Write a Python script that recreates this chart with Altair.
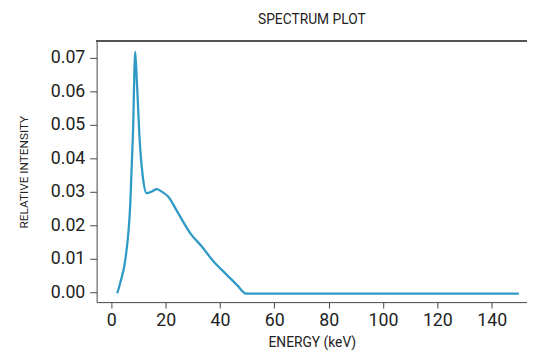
import altair as alt
import pandas as pd

energy = [2.2, 3.4, 5.2, 7.0, 8.0, 8.8, 9.4, 10.6, 11.6, 13.0, 14.9, 16.7, 18.5,
          20.9, 24.5, 29.3, 33.0, 37.8, 42.6, 46.3, 49.6, 60, 80, 100, 120, 140, 150]
intensity = [-0.0002, 0.0032, 0.0100, 0.0267, 0.0480, 0.0717, 0.0630, 0.0433, 0.0345,
             0.0296, 0.0301, 0.0308, 0.0301, 0.0286, 0.0238, 0.0174, 0.0140, 0.0091,
             0.0052, 0.0022, -0.0003, -0.0003, -0.0003, -0.0003, -0.0003, -0.0003, -0.0003]
x_ticks = [0, 20, 40, 60, 80, 100, 120, 140]
y_ticks = [0.00, 0.01, 0.02, 0.03, 0.04, 0.05, 0.06, 0.07]

df = pd.DataFrame({"energy": energy, "intensity": intensity})

W, H = 437, 265
FONT = "Roboto"

line = alt.Chart(df).mark_line(color="#2f9ac6", strokeWidth=2.3, interpolate="monotone").encode(
    x=alt.X("energy:Q", scale=alt.Scale(domain=[-5.4, 153.0], nice=False, zero=False),
            axis=alt.Axis(values=x_ticks, title="ENERGY (keV)", grid=False,
                          labelFontSize=18, labelFont=FONT, labelColor="#222",
                          titleFont=FONT, titleFontSize=14, titleFontWeight="normal",
                          titleColor="#222", titlePadding=6,
                          tickSize=6, tickColor="#444", domainColor="#444",
                          labelPadding=4)),
    y=alt.Y("intensity:Q", scale=alt.Scale(domain=[-0.00285, 0.0749], nice=False, zero=False),
            axis=alt.Axis(values=y_ticks, format=".2f", title="RELATIVE INTENSITY", grid=False,
                          labelFontSize=18, labelFont=FONT, labelColor="#222",
                          titleFont=FONT, titleFontSize=12, titleFontWeight="normal",
                          titleColor="#222", titlePadding=20,
                          tickSize=7, tickColor="#444", domainColor="#444",
                          labelPadding=5)),
)

top = alt.Chart(df).mark_rule(color="#555", strokeWidth=1).encode(
    x=alt.value(0), x2=alt.value(W), y=alt.value(0)
)

chart = alt.layer(line, top).properties(
    width=W, height=H,
    title=alt.TitleParams("SPECTRUM PLOT", font=FONT, fontSize=14, fontWeight="normal",
                          color="#222", anchor="middle", offset=14),
    autosize=alt.AutoSizeParams(type="none"),
    padding={"left": 90, "top": 31, "right": 0, "bottom": 48},
).configure_view(stroke=None)

chart.save("out.html", embed_options={"renderer": "svg", "actions": False})
